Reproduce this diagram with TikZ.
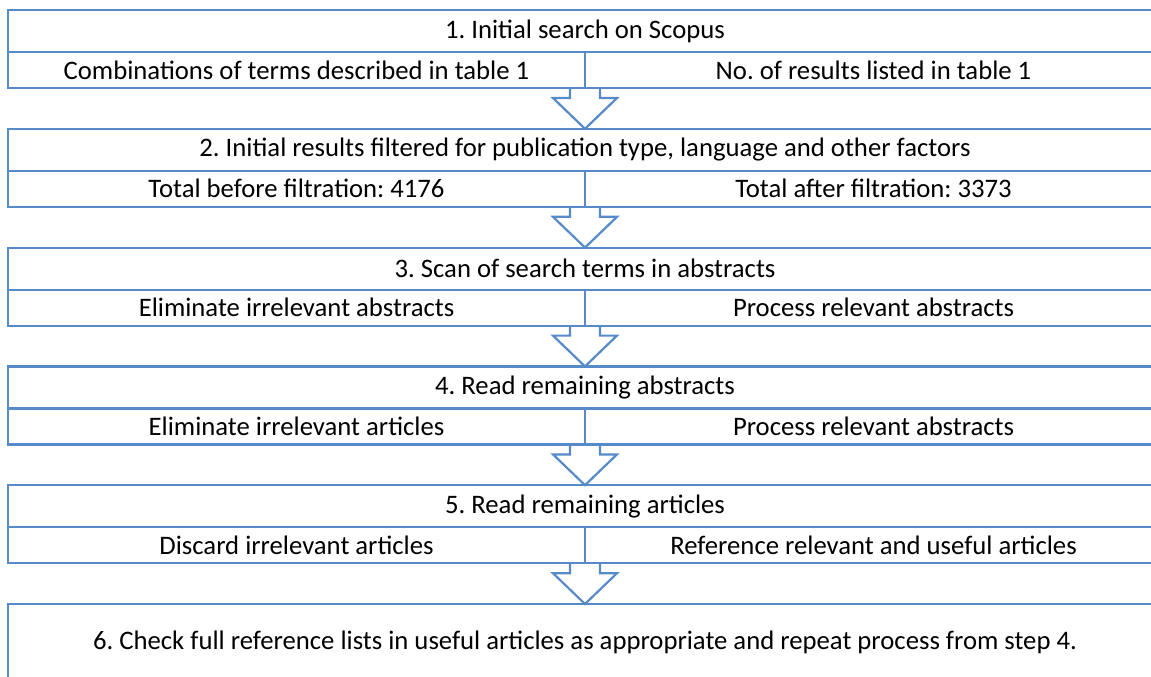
\documentclass[tikz,border=0pt]{standalone}
\usepackage{fontspec}
\setmainfont{Carlito}
\usetikzlibrary{calc}

\definecolor{stepblue}{RGB}{86,138,200}

\tikzset{
  cellbox/.style={draw=stepblue, line width=2.2pt, rectangle, anchor=north west,
    inner sep=0pt, outer sep=0pt, font=\fontsize{26.7}{30}\selectfont},
  titlecell/.style={cellbox, minimum width=1154pt, minimum height=42pt},
  halfcell/.style={cellbox, minimum width=577pt, minimum height=36pt},
  flowarrow/.style={draw=stepblue, line width=2.2pt, line join=miter}
}

% block arrow from the divider of one box to the top of the next
\newcommand{\steparrow}[2]{%
  \draw[flowarrow] let \p1=(#1), \p2=(#2) in
    (\x1-15pt,\y1) -- (\x1-15pt,\y1-10pt) -- (\x1-32pt,\y1-10pt)
    -- (\x2,\y2) -- (\x1+32pt,\y1-10pt) -- (\x1+15pt,\y1-10pt) -- (\x1+15pt,\y1);}

\frenchspacing
\begin{document}
\begin{tikzpicture}[x=1pt,y=-1pt]
    \useasboundingbox (0,0) rectangle (1151,677);
    \clip (0,0) rectangle (1151,677);

    % Paso 1
    \node[titlecell] (t1) at (8,10) {1. Initial search on Scopus};
    \node[halfcell] (s1l) at (t1.south west) {Combinations of terms described in table 1};
    \node[halfcell] (s1r) at (s1l.north east) {No. of results listed in table 1};

    % Paso 2
    \node[titlecell] (t2) at (8,128.8) {2. Initial results filtered for publication type, language and other factors};
    \node[halfcell] (s2l) at (t2.south west) {Total before filtration: 4176};
    \node[halfcell] (s2r) at (s2l.north east) {Total after filtration: 3373};

    % Paso 3
    \node[titlecell] (t3) at (8,247.6) {3. Scan of search terms in abstracts};
    \node[halfcell] (s3l) at (t3.south west) {Eliminate irrelevant abstracts};
    \node[halfcell] (s3r) at (s3l.north east) {Process relevant abstracts};

    % Paso 4
    \node[titlecell] (t4) at (8,366.4) {4. Read remaining abstracts};
    \node[halfcell] (s4l) at (t4.south west) {Eliminate irrelevant articles};
    \node[halfcell] (s4r) at (s4l.north east) {Process relevant abstracts};

    % Paso 5
    \node[titlecell] (t5) at (8,485.2) {5. Read remaining articles};
    \node[halfcell] (s5l) at (t5.south west) {Discard irrelevant articles};
    \node[halfcell] (s5r) at (s5l.north east) {Reference relevant and useful articles};

    % Paso 6
    \node[cellbox, minimum width=1154pt, minimum height=76pt] (t6) at (8,604)
      {6. Check full reference lists in useful articles as appropriate and repeat process from step 4.};

    % Flechas
    \steparrow{s1l.south east}{t2.north}
    \steparrow{s2l.south east}{t3.north}
    \steparrow{s3l.south east}{t4.north}
    \steparrow{s4l.south east}{t5.north}
    \steparrow{s5l.south east}{t6.north}
\end{tikzpicture}
\end{document}
